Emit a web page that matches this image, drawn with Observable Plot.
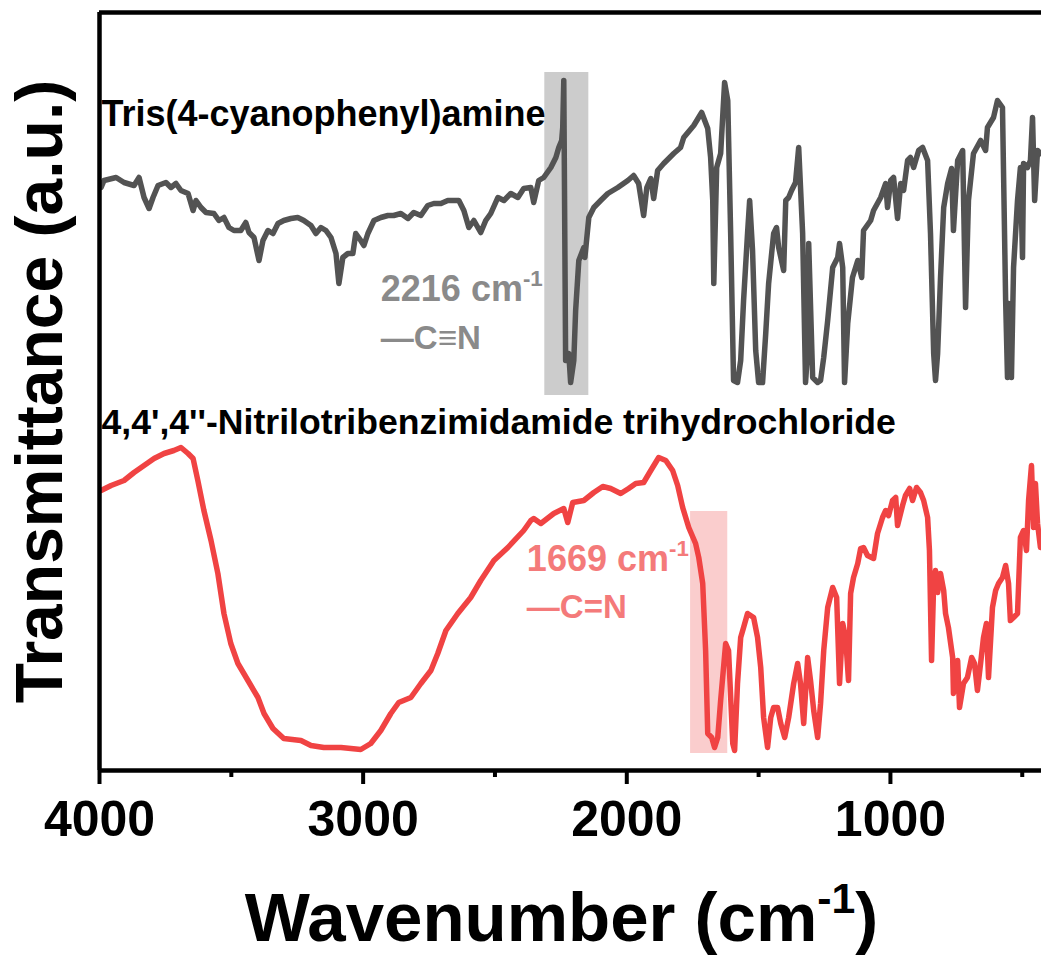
<!DOCTYPE html>
<html><head><meta charset="utf-8">
<script src="https://cdn.jsdelivr.net/npm/d3@7"></script>
<script src="https://cdn.jsdelivr.net/npm/@observablehq/plot@0.6"></script>
<style>body{margin:0;background:#fff} svg{display:block}</style>
</head><body><div id="chart"></div>
<script>
// Tris(4-cyanophenyl)amine (offset trace, arbitrary units)
const tcpaWn = [3994,3983,3937,3907,3869,3850,3831,3812,3797,3778,3748,3729,3710,3691,3664,3645,3634,3615,3596,3566,3547,3528,3509,3490,3464,3445,3433,3414,3395,3380,3361,3342,3323,3301,3274,3248,3225,3198,3179,3160,3141,3122,3103,3092,3077,3058,3039,3028,3009,2997,2982,2959,2933,2906,2884,2857,2830,2808,2781,2755,2732,2705,2679,2656,2637,2618,2599,2580,2554,2535,2516,2489,2466,2440,2413,2391,2364,2353,2334,2315,2288,2269,2258,2247,2243,2239,2232,2220,2213,2201,2194,2182,2163,2159,2144,2125,2099,2072,2034,1996,1974,1955,1936,1924,1909,1898,1883,1860,1822,1796,1784,1746,1716,1693,1682,1674,1670,1659,1644,1629,1617,1606,1595,1580,1568,1557,1542,1534,1523,1511,1500,1485,1473,1462,1443,1432,1424,1405,1397,1386,1375,1360,1348,1333,1322,1314,1310,1295,1276,1265,1253,1238,1219,1200,1193,1181,1174,1162,1144,1124,1109,1102,1075,1064,1037,1018,1011,999,988,973,961,950,935,924,912,893,878,859,848,836,829,821,810,798,783,768,761,745,726,715,704,685,658,639,632,609,594,575,563,556,552,541,533,518,507,499,495,480,469,461,453,442,431];
const tcpaT = [58.3,59.0,59.3,58.8,58.5,59.3,57.3,56.2,57.3,58.5,58.8,58.3,58.7,58.0,57.7,56.0,57.0,56.3,55.8,55.7,55.0,55.3,54.3,54.0,54.0,54.8,53.8,53.3,51.0,53.0,54.0,53.7,54.7,55.0,55.2,55.3,55.0,54.5,53.7,54.3,54.0,53.3,51.7,48.7,51.3,51.7,51.7,53.7,53.0,52.5,53.7,55.0,55.3,55.5,55.5,55.7,55.2,55.8,55.5,56.5,56.7,56.7,57.0,57.0,57.0,56.0,54.3,55.0,53.8,55.0,55.7,57.3,57.0,57.7,57.3,58.2,58.3,56.8,59.0,59.3,60.3,61.3,62.3,63.0,64.3,69.0,41.0,41.7,38.8,41.0,46.0,51.0,52.3,51.3,55.3,56.3,57.0,57.7,58.3,59.0,59.5,58.7,55.5,58.3,59.2,57.2,60.0,60.7,61.7,62.3,63.3,64.5,65.8,64.2,61.3,57.0,48.7,60.3,61.7,68.8,67.0,53.7,39.0,38.8,41.0,47.0,53.7,57.0,52.0,42.0,38.8,38.8,43.7,48.7,53.7,54.3,52.3,50.0,57.0,57.3,58.0,58.8,62.3,53.7,38.8,42.0,52.7,39.3,38.8,39.0,41.3,45.0,50.3,51.3,52.7,50.3,38.8,44.7,49.3,51.0,49.3,54.0,55.0,56.0,57.3,58.7,56.3,59.0,59.3,55.2,58.7,58.0,61.0,61.3,60.3,62.0,62.3,61.0,53.7,41.7,39.0,41.7,49.3,56.3,58.7,60.2,54.0,61.0,62.0,46.3,57.0,61.7,63.0,62.0,64.3,65.3,67.0,66.3,47.0,39.3,46.7,39.3,50.3,57.0,60.3,51.3,60.7,60.3,61.0,65.3,57.0,62.0,61.7];

// 4,4',4''-Nitrilotribenzimidamide trihydrochloride
const ntbWn = [3994,3956,3907,3869,3831,3793,3755,3718,3691,3664,3645,3627,3604,3577,3551,3528,3502,3475,3437,3399,3376,3342,3301,3236,3198,3149,3084,3009,2971,2933,2895,2865,2819,2781,2743,2717,2686,2641,2592,2554,2504,2451,2391,2364,2353,2326,2277,2239,2224,2205,2163,2125,2091,2061,2023,1993,1966,1936,1909,1879,1852,1826,1807,1788,1765,1739,1727,1712,1701,1693,1678,1667,1655,1644,1625,1614,1598,1591,1580,1568,1557,1542,1519,1504,1492,1481,1466,1454,1443,1428,1416,1401,1386,1367,1352,1341,1329,1314,1303,1291,1276,1265,1253,1238,1219,1204,1193,1181,1170,1159,1151,1140,1124,1113,1102,1087,1064,1049,1030,1018,1007,992,980,973,954,943,927,916,901,886,874,859,852,844,836,829,821,810,798,791,780,764,761,745,738,723,708,692,681,670,658,647,636,628,613,601,590,575,563,552,545,533,518,507,495,484,476,465,457,450,442,431];
const ntbT = [28.0,28.5,29.0,29.8,30.5,31.2,31.7,32.0,32.3,31.7,31.2,29.0,26.0,23.0,19.7,15.7,12.7,10.7,9.0,7.3,5.7,4.2,3.2,3.0,2.5,2.3,2.3,2.1,2.7,4.0,5.7,6.8,7.3,8.7,10.0,11.7,14.0,15.7,17.3,19.0,21.0,22.3,24.0,25.0,25.2,24.7,25.7,26.2,24.8,26.8,27.0,27.8,28.4,28.2,27.7,28.2,28.7,28.8,30.0,31.3,31.0,30.0,28.5,26.3,24.3,22.7,21.3,18.7,12.0,3.7,3.3,2.3,3.3,7.0,12.7,12.0,2.7,2.0,8.7,13.3,14.3,15.7,15.3,13.3,10.3,5.3,2.3,5.3,6.3,6.3,4.7,3.3,5.3,8.7,10.7,8.7,4.7,11.3,9.0,6.0,3.3,6.7,12.0,16.3,18.3,17.3,8.7,14.7,13.3,9.0,17.7,19.3,20.7,22.2,22.3,21.5,21.2,23.7,25.3,26.0,25.5,27.0,27.3,24.5,26.5,27.5,28.2,27.0,28.3,27.8,27.0,25.3,22.0,11.0,18.7,20.0,17.8,19.7,18.0,15.7,14.3,11.3,7.7,11.0,6.3,8.7,9.3,11.3,10.7,8.0,10.7,13.3,14.7,9.3,16.3,18.0,18.7,19.3,20.5,18.7,15.0,15.3,15.7,23.3,24.0,22.0,27.0,30.5,24.3,28.7,24.7,22.3];

const seriesNames = ["Tris(4-cyanophenyl)amine", "4,4',4''-Nitrilotribenzimidamide trihydrochloride"];
const seriesLabelT = [64.5, 33.7];
const xTicks = [4000, 3000, 2000, 1000];
const xMinorTicks = [3500, 2500, 1500, 500];
// highlighted bands: wavenumber range and transmittance span
const bandWn1 = [2311, 1758];
const bandWn2 = [2144, 1617];
const bandT1 = [37.5, 1.7];
const bandT2 = [69.8, 25.9];
// peak annotations
const peakLabels = ["2216 cm-1", "1669 cm-1"];
const bondLabels = ["\u2014C\u2261N", "\u2014C=N"];
const annWn = [2933, 2379];
const peakLabelT = [47.0, 20.0];
const bondLabelT = [42.2, 15.3];
const yDomain = [0, 75.8];

const tcpa = tcpaWn.map((w, i) => ({w, t: tcpaT[i]}));
const ntb = ntbWn.map((w, i) => ({w, t: ntbT[i]}));
const bands = bandWn1.map((w, i) => ({x1: w, x2: bandWn2[i], y1: bandT1[i], y2: bandT2[i], k: i}));
const names = seriesNames.map((s, i) => ({s, t: seriesLabelT[i]}));
const gray = "#535353", red = "#f04343";
const annColors = ["#8a8a8a", "#f47a7a"];
const peaks = peakLabels.map((s, i) => ({s, w: annWn[i], t: peakLabelT[i], c: annColors[i]}));
const bonds = bondLabels.map((s, i) => ({s, w: annWn[i], t: bondLabelT[i], c: annColors[i]}));

const plot = Plot.plot({
  width: 1041, height: 955,
  marginLeft: 99, marginRight: 0, marginTop: 12, marginBottom: 185,
  style: {fontFamily: "'Liberation Sans', Arial, sans-serif", fontWeight: "bold", color: "#000", background: "#fff"},
  x: {domain: [4000, 427]},
  y: {domain: yDomain, axis: null},
  marks: [
    Plot.rect(bands, {x1: "x1", x2: "x2", y1: "y1", y2: "y2", fill: d => d.k === 0 ? "#cccccc" : "#facdcd"}),
    Plot.line(tcpa, {x: "w", y: "t", stroke: gray, strokeWidth: 5.5, strokeLinejoin: "round", strokeLinecap: "round"}),
    Plot.line(ntb, {x: "w", y: "t", stroke: red, strokeWidth: 5.5, strokeLinejoin: "round", strokeLinecap: "round"}),
    Plot.ruleX([4000], {stroke: "#000", strokeWidth: 4.5}),
    Plot.ruleY([yDomain[0], yDomain[1]], {stroke: "#000", strokeWidth: 4.5}),
    Plot.axisX(xTicks, {tickSize: 14, tickPadding: 16, fontSize: 50, strokeWidth: 4, tickFormat: d => String(d), label: null, fontWeight: "bold"}),
    Plot.axisX(xMinorTicks, {tickSize: 7, strokeWidth: 4, tickFormat: () => "", label: null}),
    Plot.text(names, {x: 4000, y: "t", text: "s", dx: 2, textAnchor: "start", lineAnchor: "bottom", fontSize: d => d.s.length > 30 ? 35.6 : 36, fontWeight: "bold", fill: "#000"}),
    Plot.text(peaks, {x: "w", y: "t", text: "s", textAnchor: "start", lineAnchor: "bottom", fontSize: 36, fontWeight: "bold", fill: d => d.c}),
    Plot.text(bonds, {x: "w", y: "t", text: "s", textAnchor: "start", lineAnchor: "bottom", fontSize: 33, fontWeight: "bold", fill: d => d.c}),
    Plot.text(["Transmittance (a.u.)"], {frameAnchor: "left", rotate: -90, dx: -38, textAnchor: "middle", lineAnchor: "bottom", fontSize: 66, fontWeight: "bold", fill: "#000"}),
    Plot.text(["Wavenumber (cm-1)"], {frameAnchor: "bottom", dx: -9, dy: 170, textAnchor: "middle", lineAnchor: "bottom", fontSize: 69, fontWeight: "bold", fill: "#000"})
  ]
});
document.getElementById("chart").appendChild(plot);

// render "cm-1" with a real superscript
const NS = "http://www.w3.org/2000/svg";
plot.querySelectorAll("text").forEach(t => {
  const s = t.textContent;
  const i = s.indexOf("cm-1");
  if (i < 0) return;
  const base = parseFloat(getComputedStyle(t).fontSize) || 36;
  t.textContent = "";
  const a = document.createElementNS(NS, "tspan");
  a.textContent = s.slice(0, i + 2);
  const b = document.createElementNS(NS, "tspan");
  b.textContent = "-1";
  b.setAttribute("font-size", (base * 0.62).toFixed(1));
  b.setAttribute("dy", (-base * 0.4).toFixed(1));
  t.appendChild(a); t.appendChild(b);
  const rest = s.slice(i + 4);
  if (rest) {
    const c = document.createElementNS(NS, "tspan");
    c.textContent = rest;
    c.setAttribute("dy", (base * 0.4).toFixed(1));
    t.appendChild(c);
  }
});
</script>
</body></html>
